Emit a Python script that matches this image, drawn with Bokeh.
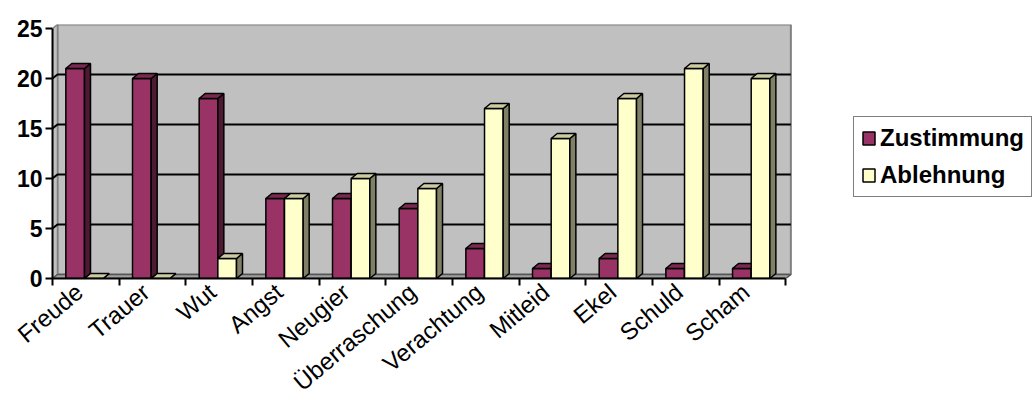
import math
import numpy as np
from bokeh.plotting import figure
from bokeh.models import Range1d, FixedTicker, Legend, LegendItem
from bokeh.embed import file_html
from bokeh.resources import INLINE

# ---------------- data ----------------
categories = ["Freude", "Trauer", "Wut", "Angst", "Neugier", "Überraschung",
              "Verachtung", "Mitleid", "Ekel", "Schuld", "Scham"]
zustimmung = [21, 20, 18, 8, 8, 7, 3, 1, 2, 1, 1]
ablehnung = [0, 0, 2, 8, 10, 9, 17, 14, 18, 21, 20]
y_ticks = [0, 5, 10, 15, 20, 25]
series_names = ["Zustimmung", "Ablehnung"]

# ---------------- style ----------------
FONT = "Liberation Sans"
Z_FRONT, Z_SIDE, Z_TOP = "#993366", "#4d1933", "#7a2952"
A_FRONT, A_SIDE, A_TOP = "#ffffcc", "#808066", "#ccccA3"
WALL, WALL_EDGE, FLOOR = "#c0c0c0", "#808080", "#a0a0a0"
DX, DY = 0.09, 0.5      # bar depth (data units)
WX, WY = 0.075, 0.4     # wall depth (data units)
BAR_OFF, BAR_W = 0.2, 0.28
LABEL_POS = 0.4         # where the category label is anchored inside its slot
W, H = 1032, 411
LEFT, TOP, BOTTOM = 52, 24, 133
PX_PER_UNIT = 66.67

n = len(categories)
idx = np.arange(n)
x_end = (W - LEFT) / PX_PER_UNIT   # frame spans to the right edge; legend sits inside it
y_top = y_ticks[-1]

p = figure(width=W, height=H, x_range=Range1d(0, x_end), y_range=Range1d(0, y_top + WY),
           output_backend="svg", toolbar_location=None,
           min_border_left=LEFT, min_border_right=0, min_border_top=TOP, min_border_bottom=BOTTOM,
           background_fill_color="white", border_fill_color="white", outline_line_color=None)
p.grid.visible = False

# walls and floor
p.quad(left=[WX], right=[n + WX], bottom=[WY], top=[y_top + WY],
       fill_color=WALL, line_color=WALL_EDGE, line_width=2)
p.patch([0, 0, WX, WX], [0, y_top, y_top + WY, WY],
        fill_color=WALL, line_color=WALL_EDGE, line_width=1.5)
p.patch([0, n, n + WX, WX], [0, 0, WY, WY],
        fill_color=FLOOR, line_color="#555555", line_width=1.5)

# gridlines on walls
g = [t for t in y_ticks if 0 < t < y_top]
p.multi_line(xs=[[0, WX, n + WX] for t in g], ys=[[t, t + WY, t + WY] for t in g],
             line_color="black", line_width=2)

# bars
fronts = []
for k, (vals, cf, cs, ct) in enumerate([(zustimmung, Z_FRONT, Z_SIDE, Z_TOP),
                                        (ablehnung, A_FRONT, A_SIDE, A_TOP)]):
    vals = np.array(vals, dtype=float)
    left = idx + BAR_OFF + k * BAR_W
    right = left + BAR_W
    fr = p.quad(left=left, right=right, bottom=0, top=vals,
                fill_color=cf, line_color="black", line_width=1.5)
    fronts.append(fr)
    p.patches(xs=[[r, r + DX, r + DX, r] for r in right],
              ys=[[0, DY, v + DY, v] for v in vals],
              fill_color=cs, line_color="black", line_width=1.5)
    p.patches(xs=[[l, r, r + DX, l + DX] for l, r in zip(left, right)],
              ys=[[v, v, v + DY, v + DY] for v in vals],
              fill_color=ct, line_color="black", line_width=1.5)

# axes
xa = p.xaxis[0]
xa.ticker = FixedTicker(ticks=[float(i) + LABEL_POS for i in idx], minor_ticks=list(range(n + 1)))
xa.major_label_overrides = {float(i) + LABEL_POS: c for i, c in zip(idx, categories)}
xa.major_tick_line_color = None
xa.minor_tick_out = 7
xa.minor_tick_in = 0
xa.minor_tick_line_width = 2
xa.minor_tick_line_color = "black"
xa.axis_line_width = 2
xa.axis_line_color = "black"
xa.bounds = (0, n)
xa.major_label_orientation = math.radians(40)
xa.major_label_text_font = FONT
xa.major_label_text_font_size = "24px"
xa.major_label_text_color = "black"
xa.major_label_standoff = 3

ya = p.yaxis[0]
ya.ticker = FixedTicker(ticks=y_ticks, minor_ticks=[])
ya.major_tick_out = 7
ya.major_tick_in = 0
ya.major_tick_line_width = 2
ya.major_tick_line_color = "black"
ya.axis_line_width = 2
ya.axis_line_color = "black"
ya.bounds = (0, y_top)
ya.major_label_text_font = FONT
ya.major_label_text_font_size = "23px"
ya.major_label_text_font_style = "bold"
ya.major_label_text_color = "black"
ya.major_label_standoff = 3

legend = Legend(items=[LegendItem(label=s, renderers=[r]) for s, r in zip(series_names, fronts)],
                location=(801, 81), glyph_width=15, glyph_height=16, label_height=16,
                spacing=9, padding=7, margin=0, label_standoff=4,
                label_text_font=FONT, label_text_font_size="24px", label_text_font_style="bold",
                label_text_color="black",
                border_line_color="black", border_line_width=1.5, background_fill_alpha=1)
p.add_layout(legend)

open("out.html", "w").write(file_html(p, INLINE))
